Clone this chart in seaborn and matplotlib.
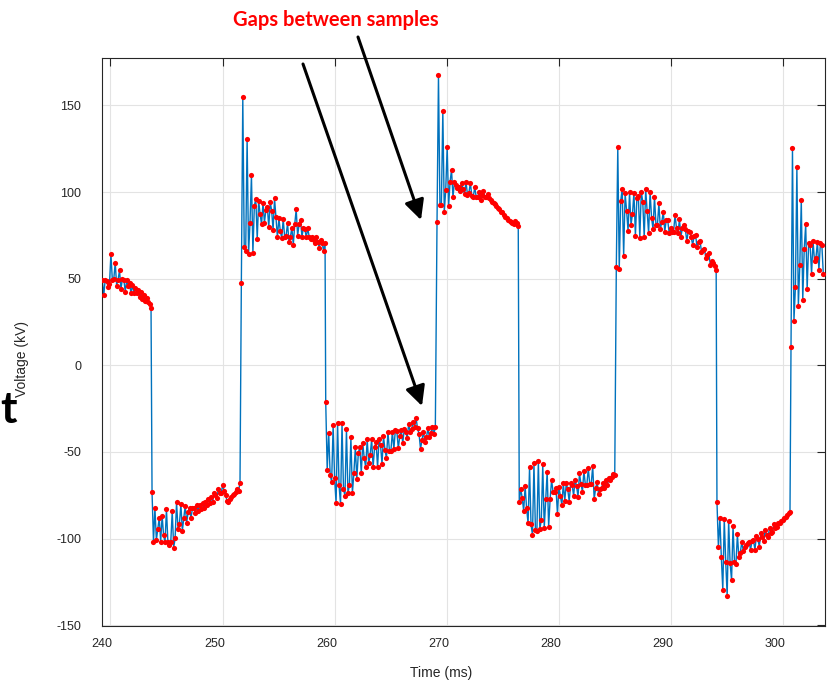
import numpy as np
import pandas as pd
import matplotlib
matplotlib.use("Agg")
import matplotlib.pyplot as plt
from matplotlib.transforms import ScaledTranslation
import seaborn as sns

# sampled waveform, one list per plateau, with first/last sample time (ms)
seg_start = [239.29, 243.72, 251.68, 259.20, 269.12, 276.45, 285.10, 294.07, 300.67]
seg_end = [243.63, 251.56, 259.14, 268.97, 276.36, 284.96, 294.00, 300.58, 303.55]

seg1 = [49.2, 40.4, 49.5, 48.5, 45.4, 47.0, 64.3, 49.0, 50.0, 59.2, 46.0, 49.5, 54.8, 43.9,
        50.0, 49.5, 42.5, 49.0, 45.6, 47.5, 41.5, 46.5, 42.0, 44.5, 41.8, 43.5, 39.5, 42.5,
        38.5, 40.5, 37.0, 39.0, 36.5, 35.5, 33.3]
seg2 = [-73.3, -101.8, -82.2, -100.9, -94.5, -88.0, -101.8, -86.8, -98.0, -102.2, -83.0,
        -102.2, -103.8, -101.8, -84.1, -105.3, -99.9, -79.1, -94.3, -91.4, -80.1, -95.7,
        -88.4, -81.0, -90.9, -84.9, -82.2, -88.4, -82.6, -82.6, -85.5, -80.7, -84.1, -80.4,
        -83.2, -79.7, -82.2, -79.1, -80.7, -77.4, -79.7, -76.2, -79.1, -73.5, -75.1, -76.4,
        -71.6, -73.9, -73.5, -69.1, -72.6, -74.9, -78.2, -79.1, -77.4, -76.2, -75.1, -74.4,
        -72.9, -71.6, -72.4, -67.8]
seg3 = [47.7, 154.7, 68.5, 66.2, 130.7, 64.3, 82.3, 109.7, 64.7, 92.0, 96.2, 72.9, 95.0,
        87.2, 81.4, 93.9, 82.3, 89.7, 91.6, 79.7, 94.3, 89.3, 78.1, 96.4, 85.4, 73.9, 84.9,
        77.5, 73.3, 84.5, 74.2, 74.7, 82.0, 71.4, 74.2, 79.4, 69.6, 81.4, 90.1, 74.8, 81.4,
        83.9, 74.2, 79.4, 78.6, 73.9, 79.2, 74.2, 72.7, 74.2, 72.3, 70.8, 74.0, 71.3, 67.9,
        72.3, 70.8, 66.0, 70.8]
seg4 = [-21.2, -60.4, -38.9, -63.3, -67.2, -34.6, -65.2, -79.7, -33.1, -69.3, -80.3, -33.5,
        -71.6, -75.3, -37.0, -73.9, -69.1, -41.6, -73.9, -62.4, -47.3, -65.8, -50.8, -47.0,
        -62.4, -45.0, -53.7, -58.9, -42.7, -56.6, -51.8, -42.7, -58.9, -47.0, -44.5, -58.9,
        -42.7, -46.0, -57.0, -40.8, -48.9, -53.7, -38.3, -49.3, -49.3, -38.3, -48.5, -37.4,
        -37.9, -47.9, -40.8, -37.4, -45.0, -37.0, -38.3, -42.1, -33.9, -38.3, -37.0, -32.6,
        -35.5, -30.6, -36.4, -39.7, -48.3, -43.1, -38.3, -44.5, -41.6, -36.4, -41.6, -39.3,
        -35.5, -39.7, -35.8]
seg5 = [82.9, 167.6, 92.6, 92.6, 146.8, 88.5, 101.2, 126.2, 92.1, 106.0, 112.8, 97.0, 106.0,
        104.1, 102.2, 103.1, 100.8, 105.4, 101.6, 98.9, 106.0, 98.3, 99.7, 105.4, 97.7, 97.3,
        102.8, 97.3, 97.0, 100.2, 95.4, 98.3, 100.6, 97.3, 97.0, 98.9, 96.4, 95.4, 94.5, 93.5,
        92.9, 92.0, 91.0, 90.1, 88.7, 88.3, 86.8, 85.8, 84.9, 83.9, 83.3, 82.6, 82.0, 81.6,
        83.1, 82.0, 80.6]
seg6 = [-78.7, -71.6, -76.4, -84.1, -69.7, -82.6, -91.2, -58.9, -91.8, -98.0, -56.6, -95.1,
        -95.5, -55.3, -94.7, -89.3, -57.2, -94.1, -77.4, -61.4, -93.2, -77.4, -66.2, -73.0,
        -73.0, -71.0, -85.9, -70.1, -75.3, -80.7, -68.1, -78.2, -68.1, -71.6, -78.7, -68.1,
        -69.1, -75.3, -66.2, -69.7, -75.9, -62.4, -68.5, -73.0, -60.9, -69.1, -69.1, -59.5,
        -68.7, -68.5, -58.1, -77.2, -71.0, -67.2, -74.3, -71.6, -71.0, -67.8, -71.0, -66.2,
        -69.1, -65.2, -66.2, -64.3, -62.8, -63.4]
seg7 = [56.6, 125.9, 55.4, 94.9, 101.8, 63.3, 99.3, 89.3, 77.5, 99.9, 81.0, 87.2, 99.7, 74.7,
        96.4, 97.9, 73.7, 100.2, 94.5, 73.9, 101.6, 89.3, 76.2, 100.2, 85.2, 78.5, 97.3, 81.0,
        81.0, 93.5, 78.5, 82.9, 88.7, 77.1, 83.9, 83.9, 76.2, 79.1, 77.1, 77.1, 86.8, 79.1,
        76.2, 84.3, 74.2, 79.4, 81.0, 78.5, 71.8, 77.3, 77.1, 73.9, 69.5, 74.5, 75.1, 68.1,
        71.4, 71.8, 65.6, 66.8, 67.4, 61.8, 63.6, 64.9, 57.9, 60.3, 59.2, 57.5, 55.0]
seg8 = [-78.7, -105.1, -88.3, -110.9, -129.7, -88.7, -113.4, -133.2, -89.7, -114.3, -124.0,
        -92.8, -113.4, -114.7, -97.6, -110.9, -108.2, -101.8, -107.2, -104.7, -103.7, -102.8,
        -101.8, -106.6, -101.3, -101.0, -106.6, -98.6, -100.5, -104.7, -97.0, -99.0, -101.3,
        -95.1, -98.0, -99.0, -93.8, -96.7, -96.1, -91.8, -94.1, -93.6, -90.9, -91.2, -89.7,
        -89.3, -88.3, -87.4, -86.4, -85.5, -84.5]
seg9 = [10.6, 125.3, 25.6, 45.0, 114.3, 34.4, 57.9, 95.4, 37.7, 67.0, 81.4, 43.9, 70.4, 69.5,
        52.7, 71.8, 60.4, 62.1, 71.4, 55.0, 70.4, 69.5, 52.7]

segments = [seg1, seg2, seg3, seg4, seg5, seg6, seg7, seg8, seg9]
x_ticks = [240, 250, 260, 270, 280, 290, 300]
y_ticks = [-150, -100, -50, 0, 50, 100, 150]

times, volts = [], []
for t0, t1, vals in zip(seg_start, seg_end, segments):
    times.extend(np.linspace(t0, t1, len(vals)))
    volts.extend(vals)
df = pd.DataFrame({"t": times, "v": volts})

sns.set_style("white")
plt.rcParams["font.family"] = ["Liberation Sans", "DejaVu Sans"]
plt.rcParams["axes.unicode_minus"] = False

fig = plt.figure(figsize=(8.28, 6.82), dpi=100)
ax = fig.add_axes([102 / 828, 1 - 626 / 682, 723 / 828, 568 / 682])

sns.lineplot(data=df, x="t", y="v", sort=False, estimator=None, color="#0072BD",
             linewidth=1.0, ax=ax, zorder=2)
sns.scatterplot(data=df, x="t", y="v", color="red", s=14, linewidth=0, ax=ax, zorder=3)

ax.set_xlim(239.26, 303.7)
ax.set_ylim(-150.5, 177.4)
ax.set_xticks(x_ticks)
ax.set_yticks(y_ticks)
ax.set_xlabel("")
ax.set_ylabel("")
ax.grid(True, color="#e3e3e3", linewidth=0.8)
ax.set_axisbelow(True)
for s in ax.spines.values():
    s.set_visible(True)
    s.set_color("#262626")
    s.set_linewidth(0.8)
ax.tick_params(axis="both", direction="in", length=5.5, width=0.8, color="#262626",
               labelsize=9, labelcolor="#262626", top=True, right=True)
ax.tick_params(axis="x", pad=8.5)
ax.tick_params(axis="y", pad=15)
shift = ScaledTranslation(-0.08, 0, fig.dpi_scale_trans)
for lab in ax.get_xticklabels():
    lab.set_transform(lab.get_transform() + shift)

fig.text(441 / 828, 1 - 673 / 682, "Time (ms)", ha="center", va="center", fontsize=10,
         color="#262626")
fig.text(22 / 828, 1 - 359 / 682, "Voltage (kV)", ha="center", va="center", rotation=90,
         fontsize=10, color="#262626")
fig.text(0.5 / 828, 1 - 423 / 682, "t", ha="left", va="baseline", fontsize=32,
         fontweight="bold", color="black", family=["Lato", "DejaVu Sans"])

fig.text(336 / 828, 1 - 26 / 682, "Gaps between samples", ha="center", va="baseline",
         fontsize=14.5, fontweight="bold", color="#ff0000", family=["Lato", "DejaVu Sans"])
arrow = dict(arrowstyle="-|>,head_length=0.6,head_width=0.3", color="black", lw=2.2,
             mutation_scale=20, shrinkA=0, shrinkB=0)
ax.annotate("", xy=(421 / 828, 1 - 220 / 682), xycoords="figure fraction",
            xytext=(358 / 828, 1 - 37 / 682), textcoords="figure fraction",
            arrowprops=arrow, annotation_clip=False)
ax.annotate("", xy=(422 / 828, 1 - 406 / 682), xycoords="figure fraction",
            xytext=(303 / 828, 1 - 64 / 682), textcoords="figure fraction",
            arrowprops=arrow, annotation_clip=False)

fig.savefig("out.png", dpi=100)
